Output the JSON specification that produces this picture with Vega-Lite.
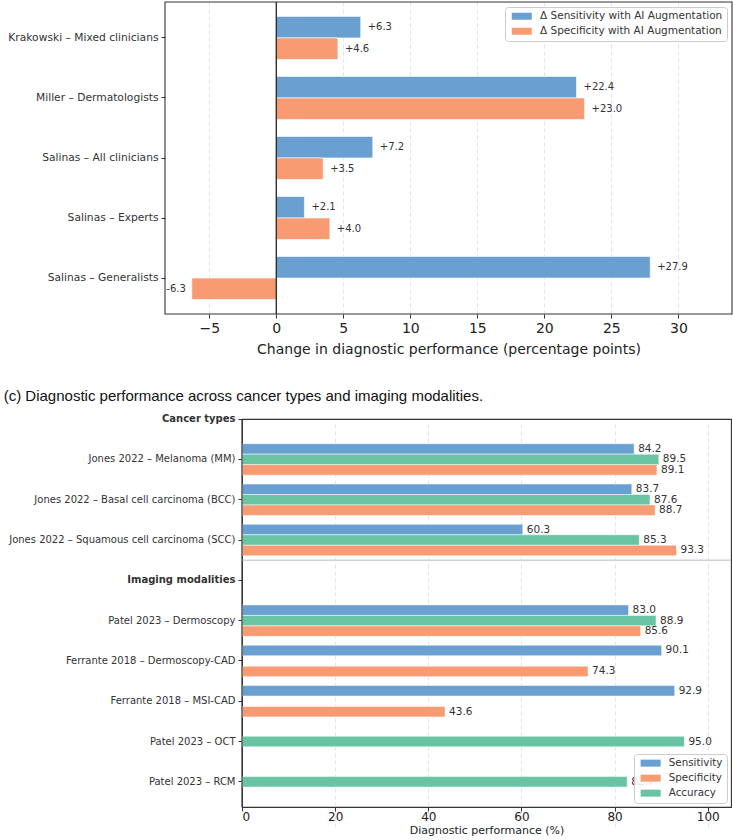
{
  "$schema": "https://vega.github.io/schema/vega-lite/v6.json",
  "padding": {"left": 3, "top": 1, "right": 2, "bottom": 0},
  "background": "white",
  "spacing": 32,
  "vconcat": [
    {
      "width": 490,
      "height": 312,
      "view": {"stroke": null},
      "data": {"name": "delta"},
      "layer": [
        {
          "mark": {"type": "bar", "stroke": "white", "strokeWidth": 0.6},
          "encoding": {
            "y": {
              "field": "cohort", "type": "nominal", "sort": null,
              "scale": {"paddingInner": 0.283, "paddingOuter": 0.24},
              "axis": {"title": null, "offset": 77, "domain": false, "labelFontSize": 10.7, "labelColor": "#333", "tickColor": "#333", "tickSize": 4, "labelPadding": 3, "labelLimit": 400}
            },
            "yOffset": {
              "field": "metric", "type": "nominal",
              "scale": {"domain": ["Δ Sensitivity with AI Augmentation", "Δ Specificity with AI Augmentation"], "range": [0, 43], "paddingInner": 0, "paddingOuter": 0}
            },
            "x": {
              "field": "value", "type": "quantitative",
              "scale": {"domain": [-8.3, 34], "range": [-77, 490], "nice": false, "zero": false},
              "axis": {
                "title": "Change in diagnostic performance (percentage points)",
                "values": [-5, 0, 5, 10, 15, 20, 25, 30],
                "labelExpr": "replace(datum.label, '-', '\u2212')",
                "domain": false, "labelFontSize": 14, "labelColor": "#222", "tickColor": "#333", "tickSize": 4, "labelPadding": 3,
                "titleFontSize": 14, "titleFontWeight": "normal", "titleColor": "#222", "titlePadding": 7,
                "grid": true, "gridColor": "#dedede", "gridDash": [4, 3], "gridWidth": 0.8
              }
            },
            "color": {
              "field": "metric", "type": "nominal",
              "scale": {"domain": ["Δ Sensitivity with AI Augmentation", "Δ Specificity with AI Augmentation"], "range": ["#6a9fd2", "#f89b72"]},
              "legend": {
                "title": null, "orient": "top-right", "offset": 5, "padding": 4,
                "fillColor": "rgba(255,255,255,0.85)", "strokeColor": "#ccc", "cornerRadius": 3,
                "labelFontSize": 10.5, "labelColor": "#333", "labelLimit": 400,
                "symbolType": "M-2.86,-1L2.86,-1L2.86,1L-2.86,1Z", "symbolSize": 49, "symbolStrokeWidth": 0,
                "symbolOffset": 7.5, "labelOffset": 13, "rowPadding": 4
              }
            }
          }
        },
        {
          "mark": {
            "type": "text", "fontSize": 10, "color": "#333",
            "align": {"expr": "datum.value < 0 ? 'right' : 'left'"},
            "dx": {"expr": "datum.value < 0 ? -6 : 7"}
          },
          "encoding": {
            "y": {"field": "cohort", "type": "nominal", "sort": null},
            "yOffset": {"field": "metric", "type": "nominal"},
            "x": {"field": "value", "type": "quantitative"},
            "text": {"field": "value", "type": "quantitative", "format": "+.1f"}
          }
        },
        {
          "data": {"values": [{}]},
          "mark": {"type": "rule", "color": "#111", "strokeWidth": 1.2},
          "encoding": {"x": {"datum": 0, "type": "quantitative"}}
        },
        {
          "data": {"values": [{}]},
          "mark": {"type": "rect", "fill": null, "stroke": "#333", "strokeWidth": 1.1},
          "encoding": {
            "x": {"datum": -8.3, "type": "quantitative"},
            "x2": {"datum": 34}
          }
        }
      ]
    },
    {
      "width": 489,
      "height": 388,
      "title": {
        "text": "(c) Diagnostic performance across cancer types and imaging modalities.",
        "anchor": "start", "font": "Liberation Sans", "fontSize": 15, "fontWeight": "normal", "color": "#111", "offset": 10, "dx": -5
      },
      "data": {"name": "performance"},
      "layer": [
        {
          "data": {"values": [{}]},
          "mark": {"type": "rule", "color": "#cfcfcf", "strokeWidth": 1.6},
          "encoding": {"y": {"datum": "Imaging modalities", "type": "nominal", "bandPosition": -0.14}}
        },
        {
          "mark": {"type": "bar", "stroke": "white", "strokeWidth": 0.5},
          "encoding": {
            "y": {
              "field": "study", "type": "nominal",
              "scale": {
                "domain": ["Cancer types", "Jones 2022 – Melanoma (MM)", "Jones 2022 – Basal cell carcinoma (BCC)", "Jones 2022 – Squamous cell carcinoma (SCC)", "Imaging modalities", "Patel 2023 – Dermoscopy", "Ferrante 2018 – Dermoscopy-CAD", "Ferrante 2018 – MSI-CAD", "Patel 2023 – OCT", "Patel 2023 – RCM"],
                "range": [-20, 383], "paddingInner": 0.22, "paddingOuter": 0.11
              },
              "axis": {
                "title": null, "domain": false, "labelFontSize": 10, "labelColor": "#333", "tickColor": "#333", "tickSize": 4, "labelPadding": 3, "labelLimit": 400,
                "labelFontWeight": {"condition": {"test": "datum.value == 'Cancer types' || datum.value == 'Imaging modalities'", "value": "bold"}, "value": "normal"}
              }
            },
            "yOffset": {
              "field": "metric", "type": "nominal",
              "scale": {"domain": ["Sensitivity", "Accuracy", "Specificity"], "range": [0, 31.4], "paddingInner": 0, "paddingOuter": 0}
            },
            "x": {
              "field": "value", "type": "quantitative",
              "scale": {"domain": [0, 105], "nice": false},
              "axis": {
                "title": "Diagnostic performance (%)",
                "values": [0, 20, 40, 60, 80, 100],
                "domain": false, "labelFontSize": 12, "labelColor": "#222", "tickColor": "#333", "tickSize": 4, "labelPadding": 0,
                "titleFontSize": 11, "titleFontWeight": "normal", "titleColor": "#222", "titlePadding": 2,
                "grid": true, "gridColor": "#dedede", "gridDash": [4, 3], "gridWidth": 0.8,
                "gridOpacity": {"condition": {"test": "datum.value === 0", "value": 0}, "value": 1}
              }
            },
            "color": {
              "field": "metric", "type": "nominal",
              "scale": {"domain": ["Sensitivity", "Specificity", "Accuracy"], "range": ["#6a9fd2", "#f89b72", "#69c4a3"]},
              "legend": {
                "title": null, "orient": "bottom-right", "offset": 4, "padding": 4,
                "fillColor": "rgba(255,255,255,0.85)", "strokeColor": "#ccc", "cornerRadius": 3,
                "labelFontSize": 10.3, "labelColor": "#333",
                "symbolType": "M-2.86,-1L2.86,-1L2.86,1L-2.86,1Z", "symbolSize": 49, "symbolStrokeWidth": 0,
                "symbolOffset": 7.5, "labelOffset": 13, "rowPadding": 4
              }
            }
          }
        },
        {
          "mark": {"type": "text", "fontSize": 10.5, "color": "#333", "align": "left", "dx": 4},
          "encoding": {
            "y": {"field": "study", "type": "nominal"},
            "yOffset": {"field": "metric", "type": "nominal"},
            "x": {"field": "value", "type": "quantitative"},
            "text": {"field": "value", "type": "quantitative", "format": ".1f"}
          }
        },
        {
          "data": {"values": [{}]},
          "mark": {"type": "rule", "color": "#333", "strokeWidth": 1.1},
          "encoding": {"x": {"datum": 0, "type": "quantitative"}}
        }
      ]
    }
  ],
  "datasets": {
    "delta": [
      {"cohort": "Krakowski – Mixed clinicians", "metric": "Δ Sensitivity with AI Augmentation", "value": 6.3},
      {"cohort": "Krakowski – Mixed clinicians", "metric": "Δ Specificity with AI Augmentation", "value": 4.6},
      {"cohort": "Miller – Dermatologists", "metric": "Δ Sensitivity with AI Augmentation", "value": 22.4},
      {"cohort": "Miller – Dermatologists", "metric": "Δ Specificity with AI Augmentation", "value": 23.0},
      {"cohort": "Salinas – All clinicians", "metric": "Δ Sensitivity with AI Augmentation", "value": 7.2},
      {"cohort": "Salinas – All clinicians", "metric": "Δ Specificity with AI Augmentation", "value": 3.5},
      {"cohort": "Salinas – Experts", "metric": "Δ Sensitivity with AI Augmentation", "value": 2.1},
      {"cohort": "Salinas – Experts", "metric": "Δ Specificity with AI Augmentation", "value": 4.0},
      {"cohort": "Salinas – Generalists", "metric": "Δ Sensitivity with AI Augmentation", "value": 27.9},
      {"cohort": "Salinas – Generalists", "metric": "Δ Specificity with AI Augmentation", "value": -6.3}
    ],
    "performance": [
      {"study": "Jones 2022 – Melanoma (MM)", "metric": "Sensitivity", "value": 84.2},
      {"study": "Jones 2022 – Melanoma (MM)", "metric": "Accuracy", "value": 89.5},
      {"study": "Jones 2022 – Melanoma (MM)", "metric": "Specificity", "value": 89.1},
      {"study": "Jones 2022 – Basal cell carcinoma (BCC)", "metric": "Sensitivity", "value": 83.7},
      {"study": "Jones 2022 – Basal cell carcinoma (BCC)", "metric": "Accuracy", "value": 87.6},
      {"study": "Jones 2022 – Basal cell carcinoma (BCC)", "metric": "Specificity", "value": 88.7},
      {"study": "Jones 2022 – Squamous cell carcinoma (SCC)", "metric": "Sensitivity", "value": 60.3},
      {"study": "Jones 2022 – Squamous cell carcinoma (SCC)", "metric": "Accuracy", "value": 85.3},
      {"study": "Jones 2022 – Squamous cell carcinoma (SCC)", "metric": "Specificity", "value": 93.3},
      {"study": "Patel 2023 – Dermoscopy", "metric": "Sensitivity", "value": 83.0},
      {"study": "Patel 2023 – Dermoscopy", "metric": "Accuracy", "value": 88.9},
      {"study": "Patel 2023 – Dermoscopy", "metric": "Specificity", "value": 85.6},
      {"study": "Ferrante 2018 – Dermoscopy-CAD", "metric": "Sensitivity", "value": 90.1},
      {"study": "Ferrante 2018 – Dermoscopy-CAD", "metric": "Specificity", "value": 74.3},
      {"study": "Ferrante 2018 – MSI-CAD", "metric": "Sensitivity", "value": 92.9},
      {"study": "Ferrante 2018 – MSI-CAD", "metric": "Specificity", "value": 43.6},
      {"study": "Patel 2023 – OCT", "metric": "Accuracy", "value": 95.0},
      {"study": "Patel 2023 – RCM", "metric": "Accuracy", "value": 82.7}
    ]
  },
  "resolve": {"scale": {"color": "independent", "x": "independent", "y": "independent", "yOffset": "independent"}},
  "config": {
    "font": "DejaVu Sans",
    "locale": {"number": {"decimal": ".", "thousands": ",", "grouping": [3], "currency": ["$", ""], "minus": "-"}},
    "view": {"stroke": "#333", "strokeWidth": 1.1},
    "axis": {"labelFont": "DejaVu Sans", "titleFont": "DejaVu Sans"},
    "legend": {"labelFont": "DejaVu Sans"}
  }
}
